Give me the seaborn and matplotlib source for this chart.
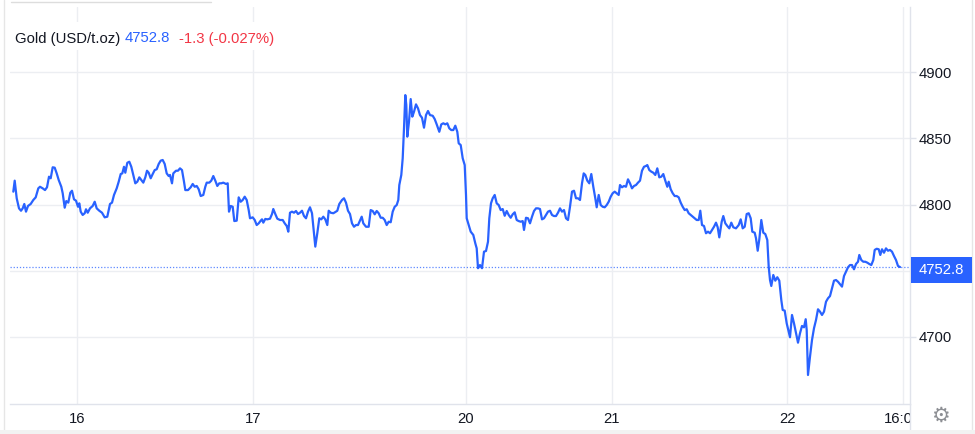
import matplotlib
matplotlib.use("Agg")
import matplotlib.pyplot as plt
import seaborn as sns
import pandas as pd
from matplotlib.patches import Rectangle
from matplotlib.lines import Line2D
from matplotlib.transforms import Bbox, TransformedBbox

# ---------------- data ----------------
t = [13.3, 14.7, 16.7, 19, 21, 22.7, 24.3, 26, 28, 30.7, 33.3, 35.7, 38.3, 40, 42.7, 45, 47, 49, 50.7, 52.7,
     54.7, 56.7, 58.7, 61.3, 62.7, 64.7, 66.3, 68.3, 70.3, 72, 74, 76, 78, 79.3, 80.7, 82.7, 84.7, 86, 87.7, 90,
     92.7, 94.7, 96.7, 99.3, 102, 104.7, 107.3, 110, 112, 114, 116.7, 118.7, 120.7, 122.3, 124, 125.3, 127.3, 129.3, 131.3, 133.3,
     135.3, 137.3, 139.3, 141.3, 143.3, 145.3, 147, 148.7, 150.7, 152.7, 154.7, 156.7, 158.7, 160.7, 162.7, 164.7, 166.7, 168.7, 170, 172,
     173.3, 176, 178, 180, 182, 184, 185.3, 188, 190.7, 192.7, 194.7, 196.7, 198.7, 200.7, 203.3, 205.3, 206.7, 209.3, 211.3, 213.3,
     215.3, 217.3, 219.3, 221.3, 223.3, 226, 227.7, 229, 230.7, 232.7, 234.3, 236.7, 238.7, 240.7, 242.7, 244.7, 246.7, 248.7, 250, 252.7,
     254.7, 256.7, 258.7, 260.7, 262, 263.3, 265.3, 267.3, 270, 272, 273.3, 275.3, 277.3, 280, 282.7, 284.7, 286.7, 288.3, 290, 292,
     294, 296, 298, 300, 302, 304, 306, 308, 310, 312, 314, 315.3, 317.3, 319.3, 321.3, 323.3, 325.3, 327.3, 328.7, 330.7,
     333.3, 335.3, 337.3, 339.3, 342, 344, 346, 348, 350, 352, 354, 356, 358, 361.7, 363.3, 366, 368.7, 370.7, 372.7, 374.7,
     376.7, 378.7, 380.7, 382.7, 384.7, 386.7, 388.7, 390.7, 392.7, 394.7, 396.7, 398.3, 399.3, 401.3, 402.7, 404, 405.3, 406.3, 407.3, 409,
     410.7, 412.3, 414, 416, 418, 420, 422, 424, 426, 428, 430, 432.7, 434.7, 436.7, 439.3, 441.3, 443.3, 445.3, 447.3, 449.3,
     451.3, 453.3, 455.3, 457.3, 458.7, 460.7, 462.7, 464.7, 466, 466.7, 468.7, 470.7, 473.3, 475.3, 476.7, 478, 480, 482, 484, 486,
     488, 489.3, 491, 492.7, 494.7, 496.7, 498.7, 500.7, 502.7, 504.7, 506.7, 508.7, 510.7, 512.7, 514.7, 516.7, 518.7, 520.7, 522.7, 524,
     526, 528, 530, 532, 534, 536, 538, 540, 542, 544, 546, 548, 550, 552, 554, 556, 558, 560, 562, 564,
     566, 568, 570, 572, 574, 576, 578, 580, 582, 583.7, 585.3, 587.3, 589.3, 591.3, 593.3, 595.3, 596.7, 598.7, 600.7, 602.7,
     604.7, 606.7, 608.7, 610.7, 612.7, 614.7, 616.7, 618.7, 620, 622, 624, 626, 628, 630, 632, 634, 636, 638, 640, 642,
     644, 646, 647.3, 649.3, 651.3, 653.3, 655.3, 657.3, 659.3, 661.3, 663.3, 665.3, 667.3, 668.7, 670.7, 672.7, 674.7, 676.7, 678.7, 680.7,
     682.7, 684.7, 686.7, 688.7, 690.7, 692.7, 694.7, 696.7, 698.7, 700.3, 702, 704, 706, 708, 710, 712, 714, 716, 717.7, 719.3,
     721.7, 723.3, 725.3, 727.3, 729.3, 731.3, 733.3, 736, 738.7, 740.7, 742.7, 744.7, 746.7, 748.7, 750.7, 752.3, 754.7, 756, 757.7, 759.3,
     761.3, 763.3, 765.3, 767.3, 768.7, 770, 771.3, 773.3, 775.3, 777.3, 779.3, 781.3, 782.7, 784.7, 786.7, 788.3, 790, 792, 794, 796,
     798, 800, 802, 804, 805.7, 806.7, 808, 810, 812, 814, 816, 818, 820, 822, 824, 826, 828, 830, 832, 834,
     836, 838, 840, 842, 844, 846, 848, 850, 852, 854, 856, 858, 859.3, 861.3, 863.3, 865.3, 867.3, 869.3, 871.3, 873.3,
     874.7, 876.7, 878.7, 880.3, 882, 884, 886, 888, 890, 892, 894, 896, 898, 900]

price = [4809.7, 4818.0, 4804.7, 4797.1, 4795.3, 4797.1, 4800.4, 4794.6, 4798.9, 4800.4, 4803.4, 4805.4, 4812.2, 4813.4, 4812.2, 4810.9, 4813.0, 4821.0, 4819.8, 4828.1,
         4827.8, 4823.5, 4818.5, 4813.4, 4808.5, 4797.6, 4802.6, 4801.4, 4808.9, 4810.4, 4803.9, 4802.9, 4798.3, 4800.9, 4794.6, 4792.1, 4793.4, 4796.4, 4793.8, 4797.1,
         4798.9, 4802.1, 4797.1, 4795.3, 4793.8, 4790.3, 4790.8, 4800.4, 4801.4, 4807.2, 4812.2, 4817.2, 4823.0, 4823.5, 4828.5, 4824.0, 4831.5, 4832.3, 4828.5, 4822.3,
         4816.0, 4817.2, 4820.5, 4818.5, 4816.5, 4820.5, 4825.5, 4824.0, 4819.8, 4823.0, 4826.0, 4826.6, 4830.6, 4833.1, 4833.6, 4830.6, 4823.5, 4821.5, 4822.3, 4816.0,
         4823.5, 4825.5, 4825.5, 4827.3, 4826.0, 4817.2, 4810.9, 4810.9, 4813.0, 4815.5, 4813.4, 4814.0, 4811.5, 4806.4, 4807.2, 4813.4, 4816.5, 4816.5, 4818.0, 4821.5,
         4818.0, 4814.0, 4816.0, 4816.0, 4816.5, 4815.5, 4816.0, 4794.6, 4798.9, 4798.3, 4787.5, 4787.8, 4805.4, 4802.1, 4803.4, 4805.9, 4803.4, 4795.8, 4789.6, 4790.3,
         4788.3, 4784.5, 4785.8, 4787.8, 4788.8, 4786.3, 4789.1, 4788.8, 4789.3, 4792.8, 4796.6, 4792.8, 4789.3, 4788.3, 4788.3, 4785.8, 4783.8, 4779.5, 4793.8, 4794.6,
         4793.8, 4795.1, 4792.8, 4793.8, 4795.3, 4791.3, 4789.6, 4794.6, 4797.9, 4793.4, 4778.3, 4768.2, 4778.3, 4789.6, 4788.8, 4790.8, 4788.8, 4784.5, 4795.3, 4793.8,
         4793.4, 4794.3, 4795.3, 4800.4, 4803.4, 4804.7, 4801.4, 4795.3, 4792.8, 4785.8, 4783.2, 4784.5, 4784.5, 4790.8, 4785.8, 4783.2, 4783.2, 4795.8, 4795.1, 4792.6,
         4795.1, 4793.4, 4790.0, 4790.0, 4788.3, 4784.5, 4787.0, 4786.6, 4794.6, 4798.3, 4799.6, 4803.4, 4814.7, 4822.3, 4834.9, 4857.5, 4882.6, 4875.1, 4851.2, 4862.5,
         4879.6, 4866.3, 4870.0, 4875.6, 4872.6, 4867.5, 4865.5, 4858.0, 4867.5, 4870.6, 4867.5, 4867.0, 4864.5, 4860.5, 4854.9, 4860.5, 4861.3, 4860.5, 4861.3, 4857.5,
         4856.2, 4856.2, 4859.5, 4854.9, 4846.2, 4844.9, 4834.9, 4829.8, 4807.2, 4789.6, 4784.5, 4779.5, 4777.0, 4770.7, 4766.9, 4751.9, 4754.3, 4751.9, 4764.4, 4764.9,
         4771.9, 4789.6, 4800.9, 4804.7, 4807.2, 4800.9, 4799.6, 4795.8, 4796.6, 4791.5, 4795.1, 4792.1, 4790.0, 4792.6, 4794.1, 4788.3, 4787.5, 4787.0, 4787.5, 4780.8,
         4790.0, 4789.6, 4785.8, 4790.8, 4795.1, 4797.1, 4797.1, 4796.6, 4788.8, 4789.6, 4792.1, 4794.6, 4795.3, 4792.1, 4791.3, 4791.3, 4793.8, 4797.1, 4794.6, 4795.8,
         4789.6, 4788.3, 4798.3, 4809.7, 4810.4, 4804.7, 4804.7, 4803.4, 4816.0, 4823.5, 4822.3, 4818.0, 4816.0, 4823.0, 4813.4, 4804.7, 4797.9, 4807.2, 4799.6, 4798.3,
         4797.9, 4799.6, 4802.1, 4805.9, 4808.5, 4809.7, 4808.5, 4807.2, 4814.7, 4813.0, 4814.0, 4813.4, 4819.0, 4816.0, 4812.2, 4814.0, 4814.7, 4816.5, 4818.0, 4825.5,
         4828.5, 4829.1, 4829.8, 4826.0, 4824.8, 4824.0, 4822.3, 4827.3, 4820.5, 4821.0, 4823.0, 4818.0, 4813.4, 4817.2, 4811.5, 4808.5, 4806.4, 4806.4, 4805.4, 4801.4,
         4798.3, 4795.8, 4796.4, 4793.4, 4792.1, 4790.8, 4789.6, 4788.3, 4788.3, 4795.3, 4784.5, 4783.8, 4778.3, 4779.5, 4778.3, 4780.8, 4783.2, 4786.3, 4782.8, 4775.2,
         4787.0, 4791.3, 4785.8, 4783.8, 4782.0, 4786.3, 4782.8, 4782.0, 4784.5, 4788.8, 4782.0, 4783.2, 4792.8, 4793.4, 4789.6, 4779.5, 4778.7, 4774.5, 4765.1, 4773.7,
         4788.3, 4778.7, 4777.7, 4773.2, 4753.1, 4743.0, 4738.5, 4746.8, 4742.5, 4745.1, 4742.5, 4727.9, 4720.4, 4719.9, 4710.3, 4705.3, 4699.8, 4716.6, 4710.3, 4702.8,
         4695.7, 4702.8, 4708.3, 4707.3, 4713.4, 4705.3, 4671.3, 4685.1, 4697.7, 4706.6, 4712.8, 4720.9, 4719.1, 4716.6, 4719.1, 4726.6, 4729.2, 4730.9, 4736.8, 4742.5,
         4743.0, 4741.7, 4739.8, 4738.0, 4746.0, 4749.3, 4752.6, 4754.3, 4754.3, 4751.1, 4755.1, 4756.8, 4761.9, 4758.1, 4756.8, 4756.8, 4756.1, 4755.1, 4754.3, 4758.1,
         4765.7, 4766.6, 4766.2, 4761.9, 4766.2, 4763.6, 4766.9, 4765.1, 4765.7, 4764.4, 4761.1, 4758.1, 4753.6, 4752.8]

tick_pos = [77, 253, 466, 612, 787, 903]
tick_labels = ["16", "17", "20", "21", "22", "16:00"]
y_ticks = [4700, 4750, 4800, 4850, 4900]
y_labels = ["4700", "", "4800", "4850", "4900"]
last_price = 4752.8
change = "-1.3 (-0.027%)"
title = "Gold (USD/t.oz)"

# ---------------- style ----------------
BLUE = "#2962ff"
RED = "#f23645"
TXT = "#131722"
GRID = "#eceef2"
AXIS = "#e0e3eb"
FS = 10.7

sns.set_theme(style="white")
plt.rcParams["font.family"] = ["Liberation Sans", "DejaVu Sans"]

W, H = 975, 434
fig = plt.figure(figsize=(W / 100, H / 100), dpi=100)
fig.patch.set_facecolor("white")

def fx(px):
    return px / W

def fy(py):
    return 1 - py / H

ax = fig.add_axes([fx(10), fy(404), fx(910) - fx(10), fy(7) - fy(404)])

df = pd.DataFrame({"t": t, "price": price})
sns.lineplot(data=df, x="t", y="price", ax=ax, color=BLUE, linewidth=1.6, zorder=3)

ax.set_xlim(10, 910)
ax.set_ylim(4649.4, 4949.1)
ax.axhline(last_price, color=BLUE, lw=0.9, ls=(0, (1, 1.5)), alpha=0.75, zorder=2)

ax.set_xticks(tick_pos)
ax.set_xticklabels(tick_labels)
ax.set_yticks(y_ticks)
ax.set_yticklabels(y_labels)
ax.yaxis.tick_right()
ax.grid(True, color=GRID, lw=1)
ax.set_axisbelow(True)
ax.set_xlabel("")
ax.set_ylabel("")
ax.tick_params(axis="x", length=0, pad=6, labelsize=FS, labelcolor=TXT)
ax.tick_params(axis="y", length=4, width=1, color=AXIS, pad=2, labelsize=FS, labelcolor=TXT)
for s in ["left", "top"]:
    ax.spines[s].set_visible(False)
for s in ["bottom", "right"]:
    ax.spines[s].set_color(AXIS)
    ax.spines[s].set_linewidth(1)

# clip the last x tick label at the price-axis border
clip = TransformedBbox(Bbox.from_extents(0, 0, 9.10, 4.34), fig.dpi_scale_trans)
lab = ax.get_xticklabels()[-1]
lab.set_clip_on(True)
lab.set_clip_box(clip)

# legend background and text
fig.patches.append(Rectangle((fx(11), fy(50)), fx(280) - fx(11), fy(22) - fy(50),
                             transform=fig.transFigure, facecolor="white", edgecolor="none", zorder=2))
ty = fy(38.5)
fig.text(fx(15), ty, title, color=TXT, fontsize=FS, va="center", ha="left", zorder=3)
fig.text(fx(125), ty, f"{last_price}", color=BLUE, fontsize=FS, va="center", ha="left", zorder=3)
fig.text(fx(179), ty, change, color=RED, fontsize=FS, va="center", ha="left", zorder=3)

# last price label on the price axis
fig.patches.append(Rectangle((fx(911), fy(282.5)), fx(972) - fx(911), fy(257) - fy(282.5),
                             transform=fig.transFigure, facecolor=BLUE, edgecolor="none", zorder=2))
fig.text(fx(941.5), fy(270), f"{last_price}", color="white", fontsize=FS, va="center", ha="center", zorder=3)

# frame / UI lines
fig.add_artist(Line2D([fx(910), fx(910)], [fy(404), fy(430)], color=AXIS, lw=1))
fig.add_artist(Line2D([fx(4), fx(4)], [fy(0), fy(430)], color="#e6e6e6", lw=1))
fig.add_artist(Line2D([fx(972), fx(972)], [fy(0), fy(430)], color="#e6e6e6", lw=1))
fig.add_artist(Line2D([fx(11), fx(211)], [fy(2), fy(2)], color="#dddddd", lw=1))
fig.patches.append(Rectangle((0, 0), 1, fy(430), transform=fig.transFigure,
                             facecolor="#f2f2f2", edgecolor="none", zorder=2))

# settings gear
fig.text(fx(940), fy(416), "\u2699", color="#8d8f94", fontsize=15, va="center", ha="center",
         family=["DejaVu Sans"])

fig.savefig("out.png", dpi=100, facecolor="white")
